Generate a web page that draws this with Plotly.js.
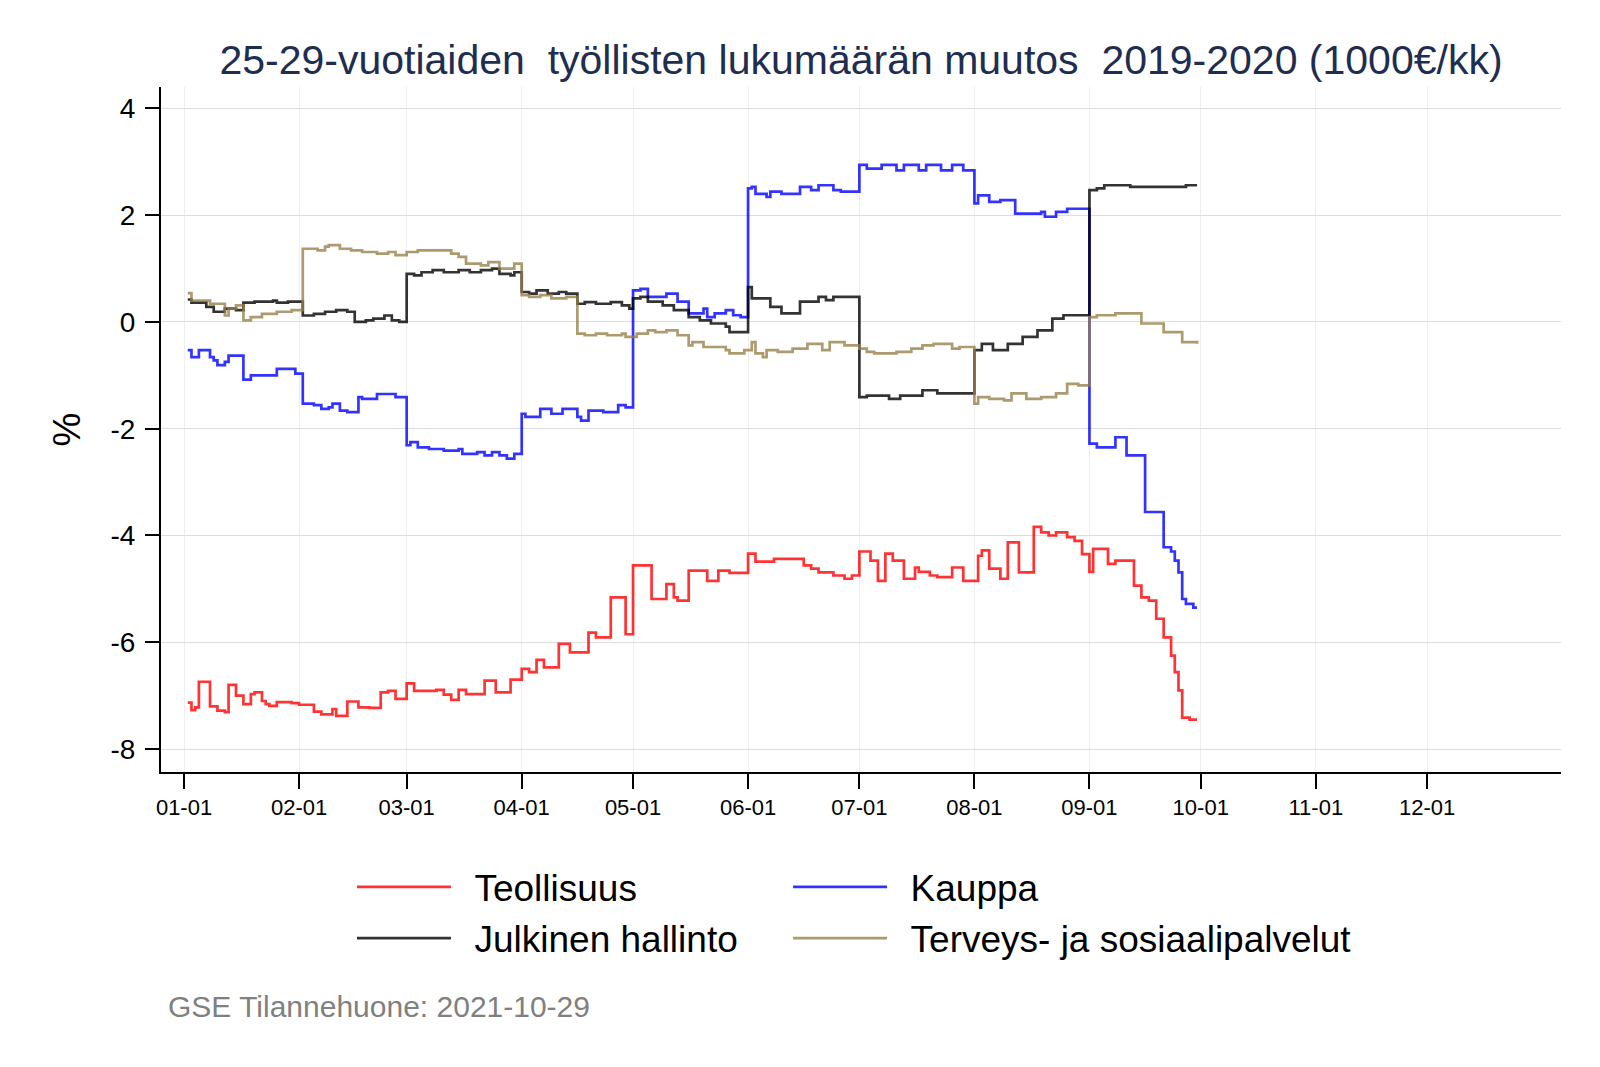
<!DOCTYPE html>
<html>
<head>
<meta charset="utf-8">
<script src="https://cdn.plot.ly/plotly-3.0.1.min.js"></script>
<style>html,body{margin:0;padding:0;background:#fff;}#chart{width:1600px;height:1067px;}</style>
</head>
<body>
<div id="chart"></div>
<script>
// Day index: 0 = 2020-01-01
const seriesNames = ['Teollisuus', 'Kauppa', 'Julkinen hallinto', 'Terveys- ja sosiaalipalvelut'];

const teollisuusDays = [1,2,3,4,7,9,11,12,14,16,18,19,21,22,23,25,29,31,35,37,40,41,44,47,50,53,55,57,60,62,68,70,72,74,76,81,84,88,91,93,95,97,101,104,109,111,115,119,121,126,130,132,133,136,141,144,147,152,154,159,167,169,171,175,178,180,182,185,187,189,191,194,197,198,201,203,207,210,214,215,217,220,222,225,229,231,233,235,238,240,242,244,245,249,251,256,258,260,262,264,266,267,268,269,271,273];
const teollisuusValues = [-7.13,-7.27,-7.22,-6.74,-7.2,-7.28,-7.31,-6.8,-7.0,-7.16,-6.97,-6.94,-7.1,-7.16,-7.19,-7.12,-7.14,-7.17,-7.3,-7.35,-7.25,-7.38,-7.11,-7.22,-7.23,-6.94,-6.91,-7.06,-6.77,-6.91,-6.89,-6.98,-7.08,-6.89,-6.97,-6.72,-6.94,-6.7,-6.5,-6.56,-6.33,-6.47,-6.03,-6.19,-5.82,-5.91,-5.16,-5.85,-4.56,-5.19,-4.91,-5.16,-5.22,-4.66,-4.85,-4.66,-4.7,-4.34,-4.49,-4.44,-4.56,-4.62,-4.69,-4.75,-4.81,-4.75,-4.3,-4.47,-4.85,-4.34,-4.47,-4.81,-4.6,-4.68,-4.75,-4.78,-4.6,-4.85,-4.38,-4.28,-4.62,-4.81,-4.13,-4.69,-3.84,-3.94,-4.0,-3.94,-4.03,-4.1,-4.35,-4.68,-4.25,-4.53,-4.47,-4.94,-5.16,-5.22,-5.56,-5.91,-6.25,-6.56,-6.9,-7.41,-7.45,-7.45];

const kauppaDays = [1,2,4,7,8,9,11,12,16,18,25,30,32,35,37,39,40,42,44,47,48,52,57,60,61,63,66,70,74,75,79,81,83,85,87,89,91,92,96,99,102,106,107,109,113,117,119,121,123,125,130,133,136,140,141,143,146,148,150,152,153,154,157,158,161,166,169,171,175,177,182,184,188,192,194,198,200,204,207,210,213,214,217,220,224,231,232,235,238,244,246,251,254,259,264,266,267,268,269,270,272,273];
const kauppaValues = [-0.53,-0.66,-0.53,-0.66,-0.72,-0.81,-0.75,-0.63,-1.08,-1.0,-0.88,-0.97,-1.53,-1.56,-1.63,-1.6,-1.53,-1.66,-1.69,-1.41,-1.44,-1.35,-1.41,-2.31,-2.25,-2.35,-2.38,-2.41,-2.38,-2.47,-2.44,-2.5,-2.44,-2.5,-2.56,-2.47,-1.72,-1.78,-1.63,-1.72,-1.63,-1.78,-1.85,-1.66,-1.69,-1.56,-1.6,0.59,0.62,0.47,0.53,0.38,0.16,0.25,0.09,0.16,0.22,0.125,0.09,2.5,2.53,2.4,2.34,2.44,2.4,2.53,2.47,2.56,2.47,2.44,2.94,2.87,2.94,2.84,2.94,2.84,2.94,2.84,2.94,2.84,2.22,2.37,2.25,2.28,2.03,2.06,1.97,2.06,2.12,-2.28,-2.35,-2.16,-2.5,-3.56,-4.22,-4.3,-4.47,-4.69,-5.19,-5.28,-5.35,-5.35];

const julkinenDays = [1,2,6,8,11,14,16,19,24,25,28,32,35,38,41,44,46,49,51,54,56,58,60,62,64,67,70,74,77,80,83,85,88,89,91,93,95,98,101,103,106,108,111,115,118,120,121,123,125,129,132,136,139,142,146,147,152,153,158,161,166,171,173,175,182,184,190,193,199,203,213,215,218,222,226,230,234,237,244,246,248,255,265,270,273];
const julkinenValues = [0.42,0.36,0.28,0.19,0.25,0.22,0.36,0.38,0.4,0.36,0.38,0.12,0.15,0.19,0.22,0.19,0.0,0.03,0.06,0.12,0.03,0.0,0.9,0.87,0.93,0.97,0.93,0.97,0.93,0.97,1.0,0.9,0.87,0.93,0.56,0.53,0.59,0.53,0.56,0.53,0.34,0.37,0.34,0.37,0.31,0.25,0.44,0.47,0.38,0.31,0.22,0.09,0.03,-0.03,-0.09,-0.19,0.65,0.44,0.28,0.16,0.38,0.47,0.41,0.47,-1.41,-1.38,-1.44,-1.38,-1.28,-1.34,-0.53,-0.41,-0.53,-0.41,-0.28,-0.16,0.06,0.125,2.47,2.5,2.56,2.53,2.53,2.56,2.56];

const terveysDays = [1,2,7,11,12,14,16,18,21,25,29,32,36,38,39,42,45,48,52,55,57,60,63,67,72,74,76,80,82,85,89,91,93,96,99,103,106,108,111,114,118,119,122,125,127,130,133,136,137,140,146,147,151,153,154,156,157,160,164,168,172,174,178,182,184,186,192,196,199,202,207,209,213,214,217,221,223,227,231,235,238,241,244,246,251,258,264,269,273];
const terveysValues = [0.54,0.4,0.34,0.12,0.25,0.31,0.03,0.09,0.15,0.19,0.22,1.37,1.34,1.41,1.44,1.37,1.34,1.31,1.28,1.31,1.25,1.31,1.34,1.34,1.28,1.22,1.09,1.06,1.12,1.0,1.09,0.5,0.47,0.5,0.44,0.47,-0.22,-0.25,-0.22,-0.25,-0.22,-0.28,-0.22,-0.16,-0.19,-0.16,-0.25,-0.44,-0.38,-0.47,-0.53,-0.59,-0.53,-0.38,-0.59,-0.66,-0.53,-0.56,-0.5,-0.41,-0.53,-0.38,-0.44,-0.5,-0.56,-0.59,-0.56,-0.5,-0.44,-0.41,-0.5,-0.47,-1.53,-1.41,-1.44,-1.47,-1.34,-1.44,-1.41,-1.34,-1.16,-1.19,0.09,0.125,0.16,-0.03,-0.19,-0.38,-0.41];

const xTickVals = ['2020-01-01','2020-02-01','2020-03-01','2020-04-01','2020-05-01','2020-06-01','2020-07-01','2020-08-01','2020-09-01','2020-10-01','2020-11-01','2020-12-01'];
const xTickText = ['01-01','02-01','03-01','04-01','05-01','06-01','07-01','08-01','09-01','10-01','11-01','12-01'];
const yTickVals = [-8,-6,-4,-2,0,2,4];
const yTickText = ['-8','-6','-4','-2','0','2','4'];

const colors = ['rgba(255,0,0,0.8)','rgba(0,0,255,0.8)','rgba(0,0,0,0.8)','rgba(150,127,70,0.78)'];
const legendIds = ['legend', 'legend2', 'legend', 'legend2'];

function toDate(d) {
  const t = new Date(Date.UTC(2020, 0, 1) + d * 86400000);
  return t.toISOString().slice(0, 10);
}

const allDays = [teollisuusDays, kauppaDays, julkinenDays, terveysDays];
const allValues = [teollisuusValues, kauppaValues, julkinenValues, terveysValues];

const traces = seriesNames.map((name, i) => ({
  type: 'scatter',
  mode: 'lines',
  name: '\u2002' + name,
  legend: legendIds[i],
  x: allDays[i].map(toDate),
  y: allValues[i],
  line: {shape: 'hv', color: colors[i], width: 2.7}
}));

const legendCommon = {
  orientation: 'v',
  xanchor: 'left',
  y: -0.1232, yanchor: 'top',
  font: {size: 37, color: '#000000'},
  itemwidth: 94,
  tracegroupgap: 0,
  traceorder: 'normal',
  bgcolor: 'rgba(0,0,0,0)',
  borderwidth: 0
};

const layout = {
  width: 1600,
  height: 1067,
  paper_bgcolor: '#ffffff',
  plot_bgcolor: '#ffffff',
  margin: {l: 161, r: 39, t: 87, b: 295},
  font: {family: '"Liberation Sans", Arial, sans-serif', color: '#000000'},
  title: {
    text: '25-29-vuotiaiden\u00a0 työllisten lukumäärän muutos\u00a0 2019-2020 (1000€/kk)',
    font: {size: 41, color: '#1e2d50'},
    x: 0.5, xref: 'paper', xanchor: 'center',
    y: 1 - 60 / 1067, yref: 'container', yanchor: 'middle'
  },
  xaxis: {
    type: 'date',
    range: ['2019-12-25 19:00', '2021-01-06 02:00'],
    tickvals: xTickVals,
    ticktext: xTickText,
    showline: true, linecolor: '#000000', linewidth: 2,
    ticks: 'outside', ticklen: 15, tickwidth: 2, tickcolor: '#000000',
    showgrid: true, gridcolor: '#eeeeee', gridwidth: 1,
    zeroline: false,
    tickfont: {size: 22, color: '#000000'},
    ticklabelstandoff: 0
  },
  yaxis: {
    range: [-8.43, 4.40],
    tickvals: yTickVals,
    ticktext: yTickText,
    showline: true, linecolor: '#000000', linewidth: 2,
    ticks: 'outside', ticklen: 14, tickwidth: 2, tickcolor: '#000000',
    showgrid: true, gridcolor: '#dcdcdc', gridwidth: 1,
    zeroline: false,
    tickfont: {size: 28, color: '#000000'},
    ticklabelstandoff: 4,
    title: {text: '%', font: {size: 38, color: '#000000'}, standoff: 18}
  },
  showlegend: true,
  legend: Object.assign({}, legendCommon, {x: 0.1364}),
  legend2: Object.assign({}, legendCommon, {x: 0.4479}),
  annotations: [{
    text: 'GSE Tilannehuone: 2021-10-29',
    xref: 'paper', yref: 'paper',
    x: 0.0036, y: -0.343,
    xanchor: 'left', yanchor: 'middle',
    showarrow: false,
    font: {size: 30, color: '#808080'}
  }]
};

Plotly.newPlot('chart', traces, layout, {displayModeBar: false, staticPlot: true});
</script>
</body>
</html>
